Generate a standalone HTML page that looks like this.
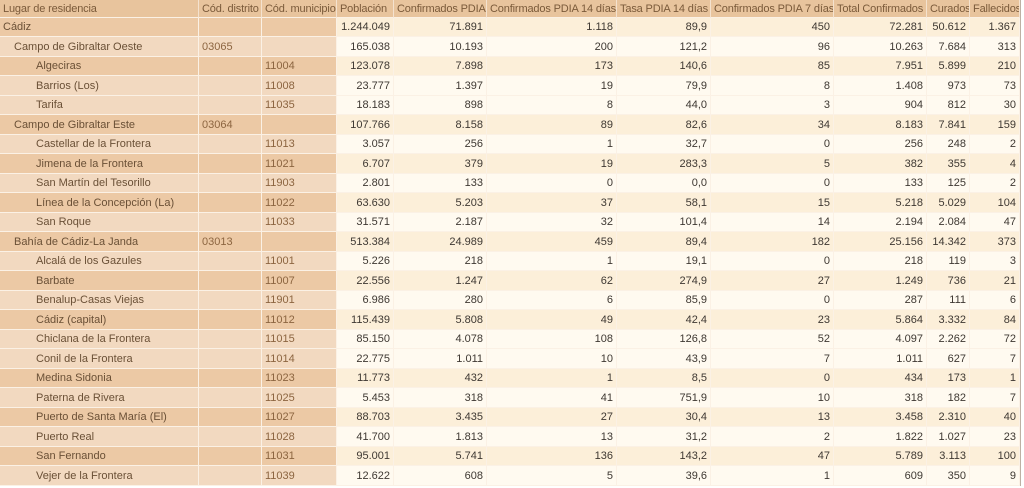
<!DOCTYPE html>
<html>
<head>
<meta charset="utf-8">
<style>
  html, body { margin:0; padding:0; background:#ffffff; }
  body { width:1024px; height:488px; overflow:hidden; position:relative; }
  .wrap { position:absolute; left:0; top:0; width:1020px; }
  table { border-collapse:separate; border-spacing:0; table-layout:fixed; width:1020px;
          font-family:"Liberation Sans", Arial, sans-serif; font-size:11px; }
  td, th { box-sizing:border-box; padding:0 3px; white-space:nowrap; overflow:hidden;
           border-right:1px solid #fbf1e5; border-bottom:1px solid #fbf1e5;
           vertical-align:middle; line-height:12px; }
  th { background:#e8c49d; color:#7a5a3a; font-weight:normal; text-align:left; height:18px;
       padding:0 1px 0 3px; letter-spacing:-0.15px; border-right:1px solid #f4e2cf; }
  tr.o td { height:19px; }
  tr.e td { height:20px; }
  td.t { color:#6a5036; }
  td.c { color:#8c6540; }
  td.n { text-align:right; color:#3e3832; padding-right:3px; }
  tr.D td.t, tr.D td.c { background:#ecc9a5; }
  tr.L td.t, tr.L td.c { background:#f2d9c0; }
  tr.D td.n { background:#fcefd9; }
  tr.L td.n { background:#fffaf0; }
  td.l0 { padding-left:3px; }
  td.l1 { padding-left:14px; }
  td.l2 { padding-left:36px; }
  .rb { position:absolute; left:1020px; top:0; width:1px; height:486px; background:#bdb1a4; }
</style>
</head>
<body>
<div class="wrap">
<table>
<colgroup>
<col style="width:199px"><col style="width:63px"><col style="width:75px"><col style="width:57px">
<col style="width:93px"><col style="width:130px"><col style="width:94px"><col style="width:123px">
<col style="width:93px"><col style="width:43px"><col style="width:50px">
</colgroup>
<tr>
<th>Lugar de residencia</th><th>Cód. distrito</th><th>Cód. municipio</th><th>Población</th>
<th>Confirmados PDIA</th><th>Confirmados PDIA 14 días</th><th>Tasa PDIA 14 días</th>
<th>Confirmados PDIA 7 días</th><th>Total Confirmados</th><th>Curados</th><th>Fallecidos</th>
</tr>
<tr class="o D"><td class="t l0">Cádiz</td><td class="c"></td><td class="c"></td><td class="n">1.244.049</td><td class="n">71.891</td><td class="n">1.118</td><td class="n">89,9</td><td class="n">450</td><td class="n">72.281</td><td class="n">50.612</td><td class="n">1.367</td></tr>
<tr class="e L"><td class="t l1">Campo de Gibraltar Oeste</td><td class="c">03065</td><td class="c"></td><td class="n">165.038</td><td class="n">10.193</td><td class="n">200</td><td class="n">121,2</td><td class="n">96</td><td class="n">10.263</td><td class="n">7.684</td><td class="n">313</td></tr>
<tr class="o D"><td class="t l2">Algeciras</td><td class="c"></td><td class="c">11004</td><td class="n">123.078</td><td class="n">7.898</td><td class="n">173</td><td class="n">140,6</td><td class="n">85</td><td class="n">7.951</td><td class="n">5.899</td><td class="n">210</td></tr>
<tr class="e L"><td class="t l2">Barrios (Los)</td><td class="c"></td><td class="c">11008</td><td class="n">23.777</td><td class="n">1.397</td><td class="n">19</td><td class="n">79,9</td><td class="n">8</td><td class="n">1.408</td><td class="n">973</td><td class="n">73</td></tr>
<tr class="o L"><td class="t l2">Tarifa</td><td class="c"></td><td class="c">11035</td><td class="n">18.183</td><td class="n">898</td><td class="n">8</td><td class="n">44,0</td><td class="n">3</td><td class="n">904</td><td class="n">812</td><td class="n">30</td></tr>
<tr class="e D"><td class="t l1">Campo de Gibraltar Este</td><td class="c">03064</td><td class="c"></td><td class="n">107.766</td><td class="n">8.158</td><td class="n">89</td><td class="n">82,6</td><td class="n">34</td><td class="n">8.183</td><td class="n">7.841</td><td class="n">159</td></tr>
<tr class="o L"><td class="t l2">Castellar de la Frontera</td><td class="c"></td><td class="c">11013</td><td class="n">3.057</td><td class="n">256</td><td class="n">1</td><td class="n">32,7</td><td class="n">0</td><td class="n">256</td><td class="n">248</td><td class="n">2</td></tr>
<tr class="e D"><td class="t l2">Jimena de la Frontera</td><td class="c"></td><td class="c">11021</td><td class="n">6.707</td><td class="n">379</td><td class="n">19</td><td class="n">283,3</td><td class="n">5</td><td class="n">382</td><td class="n">355</td><td class="n">4</td></tr>
<tr class="o L"><td class="t l2">San Martín del Tesorillo</td><td class="c"></td><td class="c">11903</td><td class="n">2.801</td><td class="n">133</td><td class="n">0</td><td class="n">0,0</td><td class="n">0</td><td class="n">133</td><td class="n">125</td><td class="n">2</td></tr>
<tr class="e D"><td class="t l2">Línea de la Concepción (La)</td><td class="c"></td><td class="c">11022</td><td class="n">63.630</td><td class="n">5.203</td><td class="n">37</td><td class="n">58,1</td><td class="n">15</td><td class="n">5.218</td><td class="n">5.029</td><td class="n">104</td></tr>
<tr class="o L"><td class="t l2">San Roque</td><td class="c"></td><td class="c">11033</td><td class="n">31.571</td><td class="n">2.187</td><td class="n">32</td><td class="n">101,4</td><td class="n">14</td><td class="n">2.194</td><td class="n">2.084</td><td class="n">47</td></tr>
<tr class="e D"><td class="t l1">Bahía de Cádiz-La Janda</td><td class="c">03013</td><td class="c"></td><td class="n">513.384</td><td class="n">24.989</td><td class="n">459</td><td class="n">89,4</td><td class="n">182</td><td class="n">25.156</td><td class="n">14.342</td><td class="n">373</td></tr>
<tr class="o L"><td class="t l2">Alcalá de los Gazules</td><td class="c"></td><td class="c">11001</td><td class="n">5.226</td><td class="n">218</td><td class="n">1</td><td class="n">19,1</td><td class="n">0</td><td class="n">218</td><td class="n">119</td><td class="n">3</td></tr>
<tr class="e D"><td class="t l2">Barbate</td><td class="c"></td><td class="c">11007</td><td class="n">22.556</td><td class="n">1.247</td><td class="n">62</td><td class="n">274,9</td><td class="n">27</td><td class="n">1.249</td><td class="n">736</td><td class="n">21</td></tr>
<tr class="o L"><td class="t l2">Benalup-Casas Viejas</td><td class="c"></td><td class="c">11901</td><td class="n">6.986</td><td class="n">280</td><td class="n">6</td><td class="n">85,9</td><td class="n">0</td><td class="n">287</td><td class="n">111</td><td class="n">6</td></tr>
<tr class="e D"><td class="t l2">Cádiz (capital)</td><td class="c"></td><td class="c">11012</td><td class="n">115.439</td><td class="n">5.808</td><td class="n">49</td><td class="n">42,4</td><td class="n">23</td><td class="n">5.864</td><td class="n">3.332</td><td class="n">84</td></tr>
<tr class="o L"><td class="t l2">Chiclana de la Frontera</td><td class="c"></td><td class="c">11015</td><td class="n">85.150</td><td class="n">4.078</td><td class="n">108</td><td class="n">126,8</td><td class="n">52</td><td class="n">4.097</td><td class="n">2.262</td><td class="n">72</td></tr>
<tr class="e L"><td class="t l2">Conil de la Frontera</td><td class="c"></td><td class="c">11014</td><td class="n">22.775</td><td class="n">1.011</td><td class="n">10</td><td class="n">43,9</td><td class="n">7</td><td class="n">1.011</td><td class="n">627</td><td class="n">7</td></tr>
<tr class="o D"><td class="t l2">Medina Sidonia</td><td class="c"></td><td class="c">11023</td><td class="n">11.773</td><td class="n">432</td><td class="n">1</td><td class="n">8,5</td><td class="n">0</td><td class="n">434</td><td class="n">173</td><td class="n">1</td></tr>
<tr class="e L"><td class="t l2">Paterna de Rivera</td><td class="c"></td><td class="c">11025</td><td class="n">5.453</td><td class="n">318</td><td class="n">41</td><td class="n">751,9</td><td class="n">10</td><td class="n">318</td><td class="n">182</td><td class="n">7</td></tr>
<tr class="o D"><td class="t l2">Puerto de Santa María (El)</td><td class="c"></td><td class="c">11027</td><td class="n">88.703</td><td class="n">3.435</td><td class="n">27</td><td class="n">30,4</td><td class="n">13</td><td class="n">3.458</td><td class="n">2.310</td><td class="n">40</td></tr>
<tr class="e L"><td class="t l2">Puerto Real</td><td class="c"></td><td class="c">11028</td><td class="n">41.700</td><td class="n">1.813</td><td class="n">13</td><td class="n">31,2</td><td class="n">2</td><td class="n">1.822</td><td class="n">1.027</td><td class="n">23</td></tr>
<tr class="o D"><td class="t l2">San Fernando</td><td class="c"></td><td class="c">11031</td><td class="n">95.001</td><td class="n">5.741</td><td class="n">136</td><td class="n">143,2</td><td class="n">47</td><td class="n">5.789</td><td class="n">3.113</td><td class="n">100</td></tr>
<tr class="e L"><td class="t l2">Vejer de la Frontera</td><td class="c"></td><td class="c">11039</td><td class="n">12.622</td><td class="n">608</td><td class="n">5</td><td class="n">39,6</td><td class="n">1</td><td class="n">609</td><td class="n">350</td><td class="n">9</td></tr>
</table>
</div>
<div class="rb"></div>
</body>
</html>
